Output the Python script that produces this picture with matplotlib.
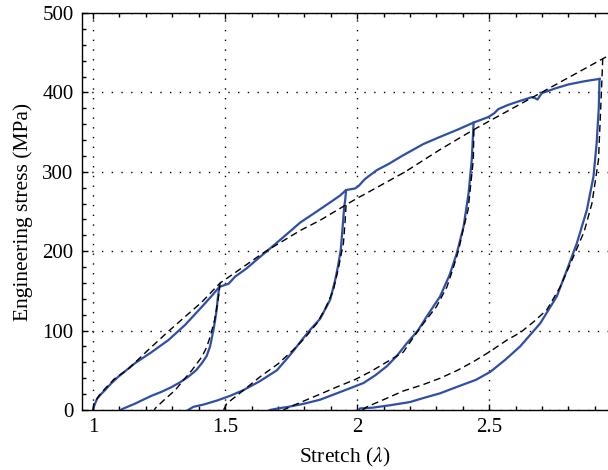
import numpy as np
import matplotlib
matplotlib.use("Agg")
import matplotlib.pyplot as plt
from matplotlib.ticker import MultipleLocator

# measured loading envelope (blue)
load_x = [1.000, 1.005, 1.015, 1.03, 1.045, 1.07, 1.096, 1.159, 1.222, 1.285, 1.348, 1.412,
          1.45, 1.478, 1.495, 1.513, 1.538, 1.58, 1.633, 1.69, 1.746, 1.784, 1.847, 1.90,
          1.935, 1.958, 1.992, 2.005, 2.03, 2.074, 2.12, 2.17, 2.251, 2.314, 2.38, 2.441,
          2.497, 2.52, 2.535, 2.57, 2.605, 2.661, 2.672, 2.683, 2.699, 2.75, 2.80, 2.86, 2.918]
load_y = [0, 6, 14, 20, 25, 34, 42, 59, 73, 88, 107, 130,
          144, 155, 157, 159, 168, 178, 193, 209, 225, 236, 250, 262,
          270, 277, 279, 282, 291, 302, 310, 320, 335, 344, 353, 362,
          369, 374, 379, 384, 388, 394, 393, 391, 399, 405, 410, 414, 417]

# measured unloading curves (blue)
unload_x = [
    [1.478, 1.472, 1.468, 1.462, 1.456, 1.443, 1.43, 1.412, 1.39, 1.361, 1.33, 1.298, 1.26,
     1.222, 1.19, 1.159, 1.13, 1.109, 1.105],
    [1.958, 1.955, 1.951, 1.945, 1.938, 1.928, 1.917, 1.898, 1.86, 1.822, 1.79, 1.76, 1.73,
     1.696, 1.63, 1.569, 1.52, 1.47, 1.42, 1.38, 1.36],
    [2.441, 2.434, 2.422, 2.403, 2.377, 2.35, 2.314, 2.264, 2.23, 2.188, 2.15, 2.112, 2.07,
     2.024, 1.97, 1.923, 1.86, 1.80, 1.74, 1.70, 1.67],
    [2.918, 2.915, 2.907, 2.895, 2.87, 2.832, 2.794, 2.756, 2.693, 2.617, 2.56, 2.504, 2.45,
     2.377, 2.314, 2.25, 2.20, 2.125, 2.06, 2.011, 2.005],
]
unload_y = [
    [155, 140, 126, 113, 101, 80, 68, 59, 50, 42, 35, 29, 23,
     18, 13, 8, 4, 1, 0],
    [277, 265, 256, 230, 202, 182, 164, 139, 115, 101, 88, 75, 63,
     50, 36, 25, 18, 12, 7, 4, 0],
    [362, 315, 273, 231, 197, 170, 143, 118, 100, 84, 68, 55, 44,
     34, 27, 21, 13, 8, 4, 2, 0],
    [417, 380, 336, 294, 252, 210, 176, 143, 109, 80, 63, 48, 38,
     29, 21, 15, 10, 6, 3, 2, 0],
]

# model loading curve (dashed)
model_x = [1.0, 1.003, 1.02, 1.04, 1.08, 1.134, 1.21, 1.285, 1.35, 1.412, 1.481, 1.525,
           1.645, 1.784, 1.86, 1.986, 2.182, 2.314, 2.441, 2.693, 2.95]
model_y = [0, 8, 17, 25, 39, 52, 76, 99, 118, 136, 160, 170,
           198, 226, 239, 264, 300, 328, 353, 399, 446]

# model unloading curves (dashed)
model_un_x = [
    [1.481, 1.474, 1.466, 1.46, 1.443, 1.43, 1.412, 1.374, 1.343, 1.311, 1.27, 1.235, 1.232],
    [1.958, 1.955, 1.948, 1.93, 1.91, 1.88, 1.847, 1.80, 1.759, 1.70, 1.633, 1.57, 1.506, 1.494],
    [2.442, 2.44, 2.42, 2.40, 2.384, 2.365, 2.34, 2.30, 2.251, 2.21, 2.175, 2.11, 2.049, 1.99,
     1.923, 1.86, 1.81, 1.76, 1.72],
    [2.93, 2.927, 2.914, 2.889, 2.86, 2.819, 2.769, 2.718, 2.668, 2.62, 2.567, 2.50, 2.441,
     2.38, 2.314, 2.25, 2.175, 2.10, 2.037, 2.02],
]
model_un_y = [
    [160, 140, 125, 113, 92, 79, 67, 50, 38, 25, 13, 2, 0],
    [258, 240, 210, 180, 151, 128, 109, 90, 76, 58, 42, 25, 8, 0],
    [353, 315, 252, 225, 201, 180, 155, 130, 109, 90, 73, 60, 48, 38,
     29, 20, 13, 6, 0],
    [443, 416, 315, 260, 225, 193, 155, 126, 111, 98, 88, 73, 61,
     50, 40, 32, 24, 13, 4, 0],
]

plt.rcParams['font.family'] = ['Liberation Serif', 'DejaVu Serif']
plt.rcParams['mathtext.fontset'] = 'stix'

fig = plt.figure(figsize=(6.08, 4.70), dpi=100)
ax = fig.add_axes([82 / 608, 60 / 470, 1 - 82 / 608, 397 / 470])

blue = '#2e4fa6'
dash = (0, (5, 3))

ax.plot(model_x, model_y, color='black', lw=1.0, ls=dash, zorder=3)
for xs, ys in zip(model_un_x, model_un_y):
    ax.plot(xs, ys, color='black', lw=1.0, ls=dash, zorder=3)

ax.plot(load_x, load_y, color=blue, lw=1.6, zorder=2)
for xs, ys in zip(unload_x, unload_y):
    ax.plot(xs, ys, color=blue, lw=1.6, zorder=2)

ax.set_xlim(0.958, 2.95)
ax.set_ylim(0, 500)
ax.xaxis.set_major_locator(MultipleLocator(0.5))
ax.xaxis.set_minor_locator(MultipleLocator(0.1))
ax.yaxis.set_major_locator(MultipleLocator(100))
ax.yaxis.set_minor_locator(MultipleLocator(20))
ax.set_xticks([1, 1.5, 2, 2.5])
ax.set_xticklabels(['1', '1.5', '2', '2.5'])

ax.tick_params(which='both', direction='in', top=True, right=False, labelsize=15,
               color='black', width=1)
ax.tick_params(which='major', length=4, pad=6)
ax.tick_params(which='minor', length=3)

ax.spines['right'].set_visible(False)
for s in ['left', 'bottom', 'top']:
    ax.spines[s].set_linewidth(1.0)

ax.grid(True, which='major', color='black', ls=(0, (1, 6)), lw=1.0)

ax.set_xlabel(r'Stretch ($\lambda$)', fontsize=15.5, labelpad=6)
ax.set_ylabel('Engineering stress (MPa)', fontsize=15.5, labelpad=7)

fig.savefig('out.png', dpi=100)
